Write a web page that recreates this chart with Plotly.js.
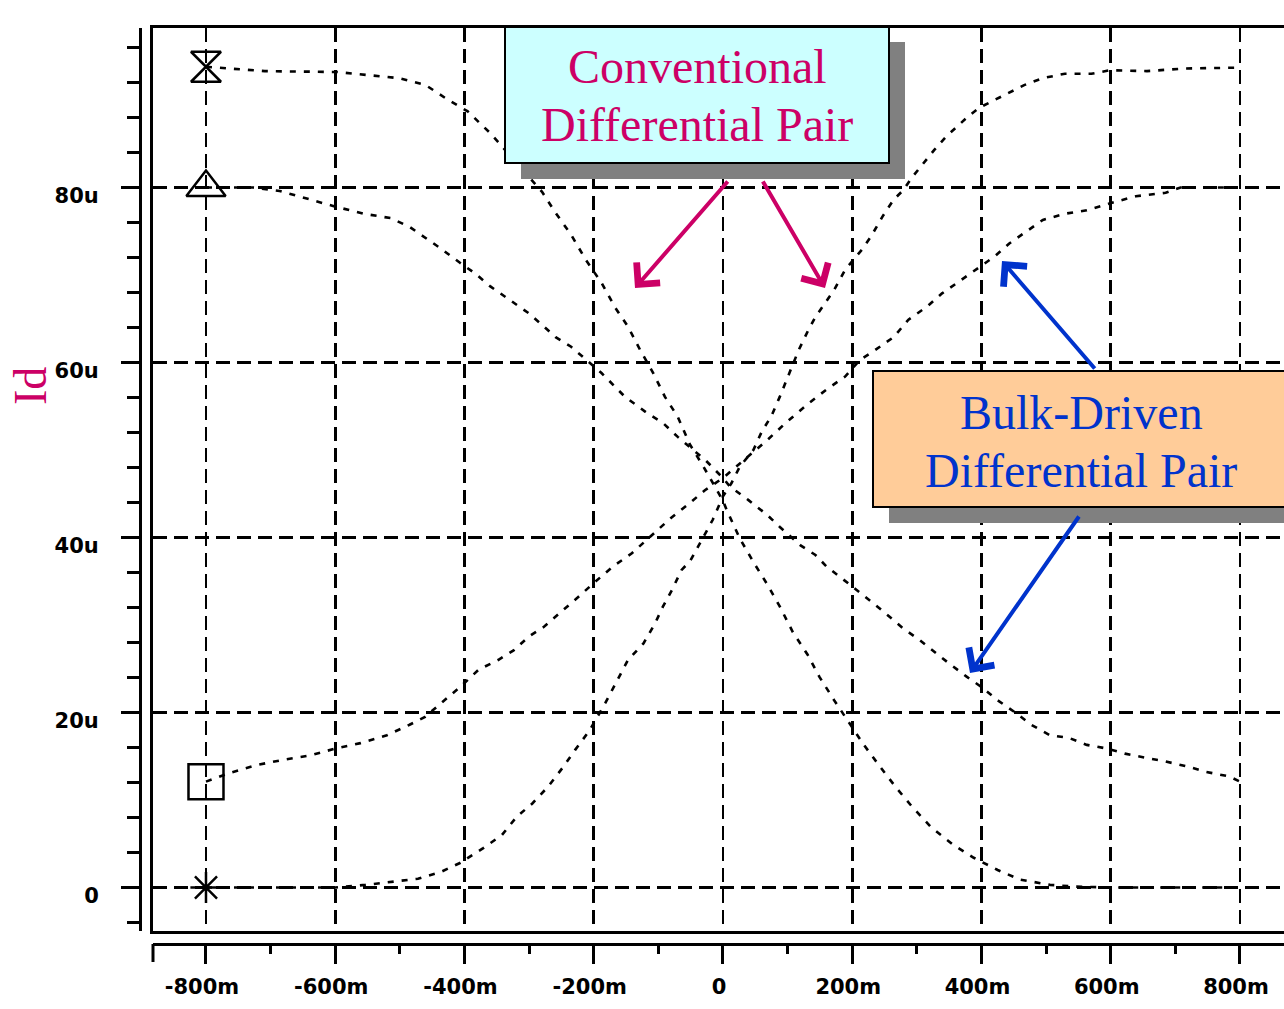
<!DOCTYPE html>
<html><head><meta charset="utf-8">
<script src="https://cdn.plot.ly/plotly-3.0.1.min.js"></script>
<style>html,body{margin:0;padding:0;background:#fff;overflow:hidden}#chart{width:1284px;height:1009px}</style>
</head><body><div id="chart"></div>
<script>
// Conventional differential pair, decreasing branch (Id in uA vs Vid in mV)
const convDecX = [-800,-709,-597,-502,-460,-425,-395,-360,-280,-259,-235,-212,-188,-167,-147,-128,-108,-90,-70,-51,-31,0,6,26,47,68,88,108,131,149,172,198,218,241,267,293,322,356,388,425,460,506,546,600,700,800];
const convDecY = [93.8,93.3,93.2,92.5,91.7,90.0,88.7,86.2,79.5,77.1,74.6,71.7,69.1,66.3,64.1,61.4,58.8,56.1,53.8,50.6,48.2,44.2,43.1,39.9,37.2,34.7,32.1,29.2,26.6,24.1,21.4,18.6,16.3,14.0,11.5,9.2,6.9,4.9,3.4,2.0,0.9,0.3,0.1,0,0,0];
// Conventional differential pair, increasing branch
const convIncX = [-800,-700,-600,-553,-472,-436,-407,-371,-342,-319,-295,-271,-247,-229,-206,-182,-164,-147,-123,-105,-93,-79,-64,-51,-39,-16,0,13,26,39,47,60,75,88,103,117,132,143,158,172,189,215,229,247,264,279,293,310,327,345,362,379,396,420,443,466,495,529,570,599,656,714,800];
const convIncY = [0,0,0,0.3,1.0,1.8,2.8,4.5,6.0,8.1,9.6,11.5,13.8,15.7,18.0,21.1,23.7,26.0,27.9,30.2,32.1,34.0,36.3,37.3,38.9,42.0,44.7,46.2,48.1,49.2,50.0,52.1,53.9,56.1,58.8,61.4,63.7,65.2,66.8,68.3,70.6,72.9,74.4,76.7,78.6,79.7,81.2,82.8,84.3,85.8,87.0,88.1,89.1,90.0,90.9,91.7,92.5,93.0,93.0,93.4,93.3,93.6,93.7];
// Bulk-driven differential pair, decreasing branch
const bulkDecX = [-800,-727,-686,-639,-599,-556,-514,-485,-467,-438,-407,-384,-360,-330,-300,-277,-259,-235,-212,-188,-152,-117,-93,-70,-46,-28,0,11,39,68,88,120,143,160,181,204,229,252,279,304,327,350,377,402,425,454,477,506,535,563,593,622,656,685,720,748,783,800];
const bulkDecY = [80.0,80.0,79.6,78.6,77.8,77.0,76.5,75.5,74.6,73.1,71.4,70.2,68.7,67.1,65.6,64.1,62.9,61.8,60.3,58.8,56.1,54.2,53.1,51.5,50.0,48.9,46.8,45.8,44.3,42.6,41.2,39.1,38.0,36.7,35.5,34.2,32.7,31.3,29.6,28.3,26.9,25.6,24.1,22.8,21.4,19.9,18.6,17.4,17.1,16.3,15.9,15.3,14.8,14.4,13.8,13.2,12.7,12.1];
// Bulk-driven differential pair, increasing branch
const bulkIncX = [-800,-763,-721,-680,-638,-599,-561,-520,-485,-461,-431,-407,-378,-348,-324,-300,-277,-253,-224,-200,-170,-141,-112,-81,-52,-28,0,68,97,132,160,189,212,235,264,287,316,339,368,396,420,443,472,495,529,563,599,639,685,708,800];
const bulkIncY = [12.1,13.1,14.0,14.6,15.1,15.9,16.5,17.4,18.6,19.5,21.4,22.9,24.9,26.0,27.1,28.7,29.8,31.3,33.2,34.8,36.7,38.2,40.1,42.2,43.9,45.4,46.8,51.1,53.1,55.3,56.9,58.4,60.3,61.4,62.9,64.9,66.4,67.9,69.4,70.9,72.1,73.6,75.1,76.3,77.0,77.4,78.2,79.0,79.4,80.0,80.0];

const xTickVals = [-800,-600,-400,-200,0,200,400,600,800];
const xTickText = ['-800m','-600m','-400m','-200m','0','200m','400m','600m','800m'];
const yTickVals = [0,20,40,60,80];
const yTickText = ['0','20u','40u','60u','80u'];

const series = [
  {x: convDecX, y: convDecY, symbol: 'hourglass-open', size: 30},
  {x: bulkDecX, y: bulkDecY, symbol: 'triangle-up-open', size: 34},
  {x: bulkIncX, y: bulkIncY, symbol: 'square-open', size: 35},
  {x: convIncX, y: convIncY, symbol: 'asterisk-open', size: 26}
];

const W = 1284, H = 1009;
const fx = p => p / W;
const fy = p => 1 - p / H;

const traces = [];
series.forEach(s => {
  traces.push({type:'scatter', mode:'lines', x:s.x, y:s.y, xaxis:'x', yaxis:'y',
    line:{color:'#000', width:2.6, dash:'6px,8px'}, hoverinfo:'skip'});
});
series.forEach(s => {
  traces.push({type:'scatter', mode:'markers', x:[s.x[0]], y:[s.y[0]], xaxis:'x', yaxis:'y',
    marker:{symbol:s.symbol, size:s.size, color:'#000', line:{color:'#000', width:2.5}}, hoverinfo:'skip', cliponaxis:false});
});
traces.push({type:'scatter', mode:'lines', x:[], y:[], xaxis:'x2', yaxis:'y2', hoverinfo:'skip'});

const xRange = [-882.0, 868.1];
const yRange = [-4.971, 98.229];
const xDomain = [fx(153), 1];
const yDomain = [fy(931), fy(28)];
const tickFont = {family:'DejaVu Sans', size:21, color:'#000', weight:'bold'};

const layout = {
  width: W, height: H,
  margin: {l:0, r:0, t:0, b:0},
  paper_bgcolor: '#fff', plot_bgcolor: '#fff',
  showlegend: false,
  xaxis: {domain:xDomain, range:xRange, tickmode:'linear', tick0:0, dtick:200,
    showgrid:true, gridcolor:'#000', gridwidth:2.8, griddash:'14px,7px',
    showticklabels:false, ticks:'', zeroline:false,
    showline:true, linecolor:'#000', linewidth:3, mirror:true, fixedrange:true},
  yaxis: {domain:yDomain, range:yRange, tickmode:'linear', tick0:0, dtick:20,
    showgrid:true, gridcolor:'#000', gridwidth:2.8, griddash:'14px,7px',
    showticklabels:false, ticks:'', zeroline:false,
    showline:true, linecolor:'#000', linewidth:3, mirror:false, fixedrange:true},
  xaxis2: {overlaying:'x', anchor:'free', position:fy(944), domain:xDomain, range:xRange,
    tickmode:'array', tickvals:xTickVals, ticktext:xTickText,
    ticks:'outside', ticklen:18, tickwidth:3, tickcolor:'#000',
    showline:true, linecolor:'#000', linewidth:3, showgrid:false, zeroline:false,
    tickfont:tickFont, ticklabelstandoff:5, ticklabelshift:-4,
    minor:{tickmode:'linear', tick0:0, dtick:100, ticks:'outside', ticklen:8, tickwidth:3, tickcolor:'#000', showgrid:false},
    fixedrange:true},
  yaxis2: {overlaying:'y', anchor:'free', position:fx(140), side:'left', domain:yDomain, range:yRange,
    tickmode:'array', tickvals:yTickVals, ticktext:yTickText,
    ticks:'outside', ticklen:18, tickwidth:3, tickcolor:'#000',
    showline:true, linecolor:'#000', linewidth:3, showgrid:false, zeroline:false,
    tickfont:tickFont, ticklabelstandoff:18, ticklabelshift:8,
    minor:{tickmode:'linear', tick0:0, dtick:4, ticks:'outside', ticklen:12, tickwidth:3, tickcolor:'#000', showgrid:false},
    fixedrange:true},
  shapes: [
    {type:'line', xref:'paper', yref:'paper', x0:fx(153), x1:fx(153), y0:fy(944), y1:fy(962), line:{color:'#000', width:3}},
    {type:'rect', xref:'paper', yref:'paper', x0:fx(521), x1:fx(905), y0:fy(179), y1:fy(42), fillcolor:'#808080', line:{width:0}, layer:'above'},
    {type:'rect', xref:'paper', yref:'paper', x0:fx(505), x1:fx(889), y0:fy(163), y1:fy(27), fillcolor:'#ccffff', line:{color:'#000', width:2}, layer:'above'},
    {type:'rect', xref:'paper', yref:'paper', x0:fx(889), x1:1.05, y0:fy(523), y1:fy(386), fillcolor:'#808080', line:{width:0}, layer:'above'},
    {type:'rect', xref:'paper', yref:'paper', x0:fx(873), x1:1.05, y0:fy(507), y1:fy(371), fillcolor:'#ffcc99', line:{color:'#000', width:2}, layer:'above'}
  ],
  annotations: [
    {xref:'paper', yref:'paper', x:fx(697), y:fy(67), text:'Conventional', showarrow:false, xanchor:'center', yanchor:'middle',
      font:{family:'Liberation Serif', size:48, color:'#cc0066'}},
    {xref:'paper', yref:'paper', x:fx(697), y:fy(124), text:'Differential Pair', showarrow:false, xanchor:'center', yanchor:'middle',
      font:{family:'Liberation Serif', size:48, color:'#cc0066'}},
    {xref:'paper', yref:'paper', x:fx(1081), y:fy(412), text:'Bulk-Driven', showarrow:false, xanchor:'center', yanchor:'middle',
      font:{family:'Liberation Serif', size:48, color:'#0033cc'}},
    {xref:'paper', yref:'paper', x:fx(1081), y:fy(470), text:'Differential Pair', showarrow:false, xanchor:'center', yanchor:'middle',
      font:{family:'Liberation Serif', size:48, color:'#0033cc'}},
    {xref:'paper', yref:'paper', x:fx(30), y:fy(386), text:'Id', showarrow:false, textangle:-90, xanchor:'center', yanchor:'middle',
      font:{family:'Liberation Serif', size:46, color:'#cc0066'}},
    {xref:'paper', yref:'paper', x:fx(635), y:fy(288), ax:729-635, ay:180-288, text:'', showarrow:true,
      arrowhead:4, arrowsize:1.5, arrowwidth:4, arrowcolor:'#cc0066'},
    {xref:'paper', yref:'paper', x:fx(825), y:fy(288), ax:762-825, ay:180-288, text:'', showarrow:true,
      arrowhead:4, arrowsize:1.5, arrowwidth:4, arrowcolor:'#cc0066'},
    {xref:'paper', yref:'paper', x:fx(1002), y:fy(261), ax:1096-1002, ay:370-261, text:'', showarrow:true,
      arrowhead:4, arrowsize:1.5, arrowwidth:4, arrowcolor:'#0033cc'},
    {xref:'paper', yref:'paper', x:fx(970), y:fy(673), ax:1080-970, ay:515-673, text:'', showarrow:true,
      arrowhead:4, arrowsize:1.5, arrowwidth:4, arrowcolor:'#0033cc'}
  ]
};

Plotly.newPlot('chart', traces, layout, {staticPlot:true, displayModeBar:false});
</script>
</body></html>
